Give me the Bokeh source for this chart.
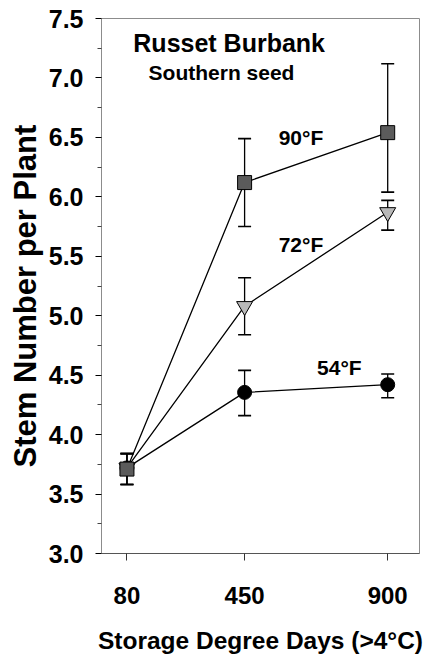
from bokeh.plotting import figure
from bokeh.models import Range1d, FixedTicker, Whisker, TeeHead, ColumnDataSource, Label, PrintfTickFormatter, Title
from bokeh.core.properties import value
from bokeh.embed import file_html
from bokeh.resources import INLINE

# ---- data ----
storage_dd = [80, 450, 900]
tick_labels = {80: "80", 450: "450", 900: "900"}

f90_mean = [3.71, 6.12, 6.54]
f90_lower = [3.58, 5.75, 6.04]
f90_upper = [3.84, 6.49, 7.12]

f72_mean = [3.72, 5.08, 5.87]
f72_lower = [3.58, 4.84, 5.72]
f72_upper = [3.84, 5.32, 5.97]

f54_mean = [3.72, 4.355, 4.42]
f54_lower = [3.58, 4.16, 4.31]
f54_upper = [3.84, 4.54, 4.51]

series_labels = ["90°F", "72°F", "54°F"]
label_x = [557, 557, 678]
label_y = [6.50, 5.60, 4.567]

title_text = "Russet Burbank"
subtitle_text = "Southern seed"
x_title = "Storage Degree Days (>4°C)"
y_title = "Stem Number per Plant"

FONT = "Liberation Sans"

p = figure(width=426, height=668, output_backend="svg", toolbar_location=None,
           x_range=Range1d(0, 1000), y_range=Range1d(3.0, 7.5),
           min_border_left=101, min_border_right=7, min_border_top=18, min_border_bottom=115,
           frame_width=318, frame_height=535)
p.grid.visible = False
p.outline_line_color = "#8c8c8c"
p.outline_line_width = 1
p.background_fill_color = "white"

# y axis
ya = p.yaxis[0]
ya.ticker = FixedTicker(ticks=[3.0, 3.5, 4.0, 4.5, 5.0, 5.5, 6.0, 6.5, 7.0, 7.5],
                        minor_ticks=[3.25, 3.75, 4.25, 4.75, 5.25, 5.75, 6.25, 6.75, 7.25])
ya.formatter = PrintfTickFormatter(format="%.1f")
ya.axis_line_color = "#8c8c8c"
ya.major_tick_line_color = "black"
ya.minor_tick_line_color = "#444444"
ya.major_tick_out = 6
ya.major_tick_in = 0
ya.minor_tick_out = 4
ya.minor_tick_in = 0
ya.major_label_text_font = FONT
ya.major_label_text_font_style = "bold"
ya.major_label_text_font_size = "25px"
ya.major_label_text_color = "black"
ya.major_label_standoff = 12

# x axis
xa = p.xaxis[0]
xa.ticker = FixedTicker(ticks=storage_dd, minor_ticks=[])
xa.major_label_overrides = tick_labels
xa.axis_line_color = "#555555"
xa.major_tick_line_color = "#333333"
xa.major_tick_out = 7
xa.major_tick_in = 0
xa.major_label_text_font = FONT
xa.major_label_text_font_style = "bold"
xa.major_label_text_font_size = "24px"
xa.major_label_text_color = "black"
xa.major_label_standoff = 26
xa.axis_label = x_title
xa.axis_label_text_font = FONT
xa.axis_label_text_font_style = "bold"
xa.axis_label_text_font_size = "24.5px"
xa.axis_label_text_color = "black"
xa.axis_label_standoff = 20

specs = [
    (f54_mean, f54_lower, f54_upper, "circle", "black", 14),
    (f72_mean, f72_lower, f72_upper, "inverted_triangle", "#b9b9b9", 16),
    (f90_mean, f90_lower, f90_upper, "square", "#5b5b5b", 14),
]

for mean, lo, up, marker, color, size in specs:
    src = ColumnDataSource(dict(x=storage_dd, y=mean, lower=lo, upper=up))
    w = Whisker(source=src, base="x", lower="lower", upper="upper",
                line_color="black", line_width=1.3,
                upper_head=TeeHead(size=13, line_color="black", line_width=1.6),
                lower_head=TeeHead(size=13, line_color="black", line_width=1.6))
    p.add_layout(w)

for mean, lo, up, marker, color, size in specs:
    src = ColumnDataSource(dict(x=storage_dd, y=mean))
    p.line("x", "y", source=src, line_color="black", line_width=1.3)

for mean, lo, up, marker, color, size in specs:
    src = ColumnDataSource(dict(x=storage_dd, y=mean))
    p.scatter("x", "y", source=src, marker=marker, size=size, fill_color=color,
              line_color="black", line_width=1)

lab_src = ColumnDataSource(dict(x=label_x, y=label_y, t=series_labels))
p.text("x", "y", text="t", source=lab_src, text_font=value(FONT), text_font_style="bold",
       text_font_size="21px", text_baseline="middle", text_align="left", text_color="black")

p.add_layout(Label(x=100, y=7.29, text=title_text, text_font=FONT, text_font_style="bold",
                   text_font_size="25px", text_baseline="middle", text_color="black"))
p.add_layout(Label(x=148, y=7.05, text=subtitle_text, text_font=FONT, text_font_style="bold",
                   text_font_size="21px", text_baseline="middle", text_color="black"))

# y-axis title as a side-panel title, starting a bit above the frame bottom
p.add_layout(Title(text=y_title, align="left", offset=86, standoff=6,
                   text_font=FONT, text_font_style="bold", text_font_size="31px",
                   text_color="black"), "left")

open("out.html", "w").write(file_html(p, INLINE))
